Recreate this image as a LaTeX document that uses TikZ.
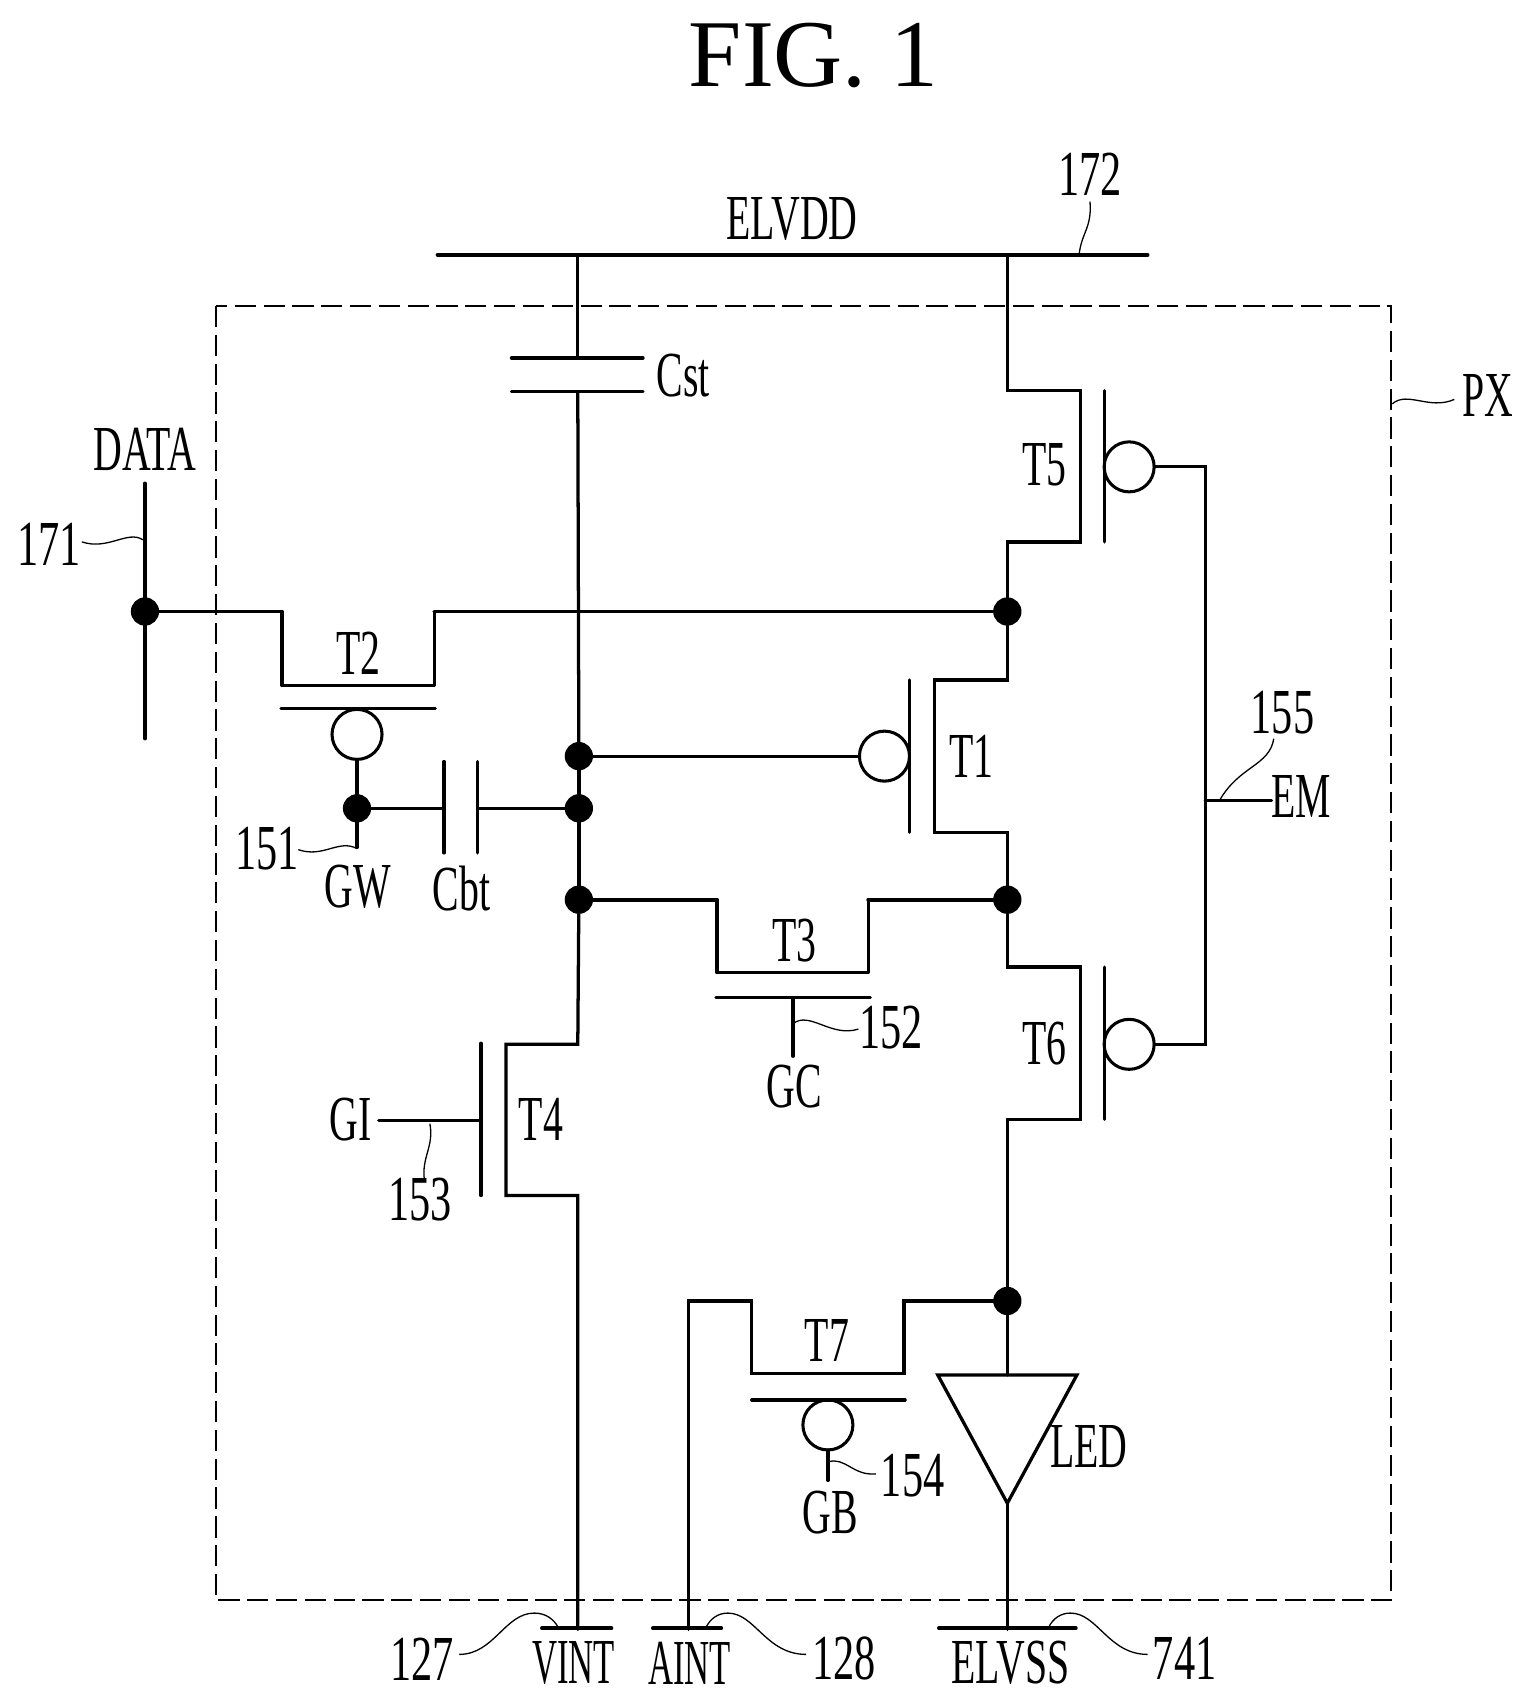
\documentclass[tikz,border=0pt]{standalone}
\usepackage{fontspec}
\setmainfont{Liberation Serif}
\newcommand\cnd[1]{\scalebox{.62}[1]{#1}}
\newcommand\cnu[1]{\scalebox{.66}[1]{#1}}
\newcommand\cnn[1]{\scalebox{.54}[1]{#1}}
\tikzset{
  x=1pt,y=-1pt,
  wire/.style={line width=3pt,line cap=round,line join=miter},
  heavy/.style={line width=3.4pt,line cap=round},
  leader/.style={line width=1.2pt},
  dot/.style={circle,fill=black,draw=none,minimum size=26pt,inner sep=0pt,outer sep=0pt},
  bubble/.style={circle,draw=black,fill=white,line width=2.8pt,minimum size=46pt,inner sep=0pt,outer sep=0pt},
  lbl/.style={inner sep=0pt,outer sep=0pt,font=\fontsize{59}{59}\selectfont},
  title/.style={inner sep=0pt,outer sep=0pt,font=\fontsize{88}{88}\selectfont},
  dashbox/.style={line width=2.1pt,dash pattern=on 19.5pt off 7pt}
}
\begin{document}
\begin{tikzpicture}
\useasboundingbox (0.7,0.7) rectangle (1409.5,1566.7);
\fill[white] (0.7,0.7) rectangle (1409.5,1566.7);
% junctions and bubbles
\node[dot] (dData) at (134,563) {};
\node[dot] (dTop) at (927,563) {};
\node[dot] (dGate) at (533,696) {};
\node[dot] (dCbt) at (533,744) {};
\node[dot] (dTh) at (533,828) {};
\node[dot] (dMid) at (927,828) {};
\node[dot] (dGw) at (329,744) {};
\node[dot] (dLed) at (927,1197) {};
\node[bubble] (bT5) at (1039,430) {};
\node[bubble] (bT6) at (1039,961) {};
\node[bubble] (bT2) at (329,676) {};
\node[bubble] (bT1) at (814,696) {};
\node[bubble] (bT7) at (762,1311) {};
% free ends
\coordinate (vddL) at (403,235);
\coordinate (vddR) at (1056,235);
\coordinate (vddA) at (532,235);
\coordinate (vddB) at (927,235);
\coordinate (cstTop) at (532,330);
\coordinate (cstBot) at (532,361);
\coordinate (vint) at (532,1499);
\coordinate (aint) at (634,1499);
\coordinate (elvss) at (927,1499);
\coordinate (ledTop) at (927,1265);
\coordinate (ledTip) at (927,1383);
\coordinate (emBus) at (1109,737);
\coordinate (emEnd) at (1170,737);
\coordinate (dataTop) at (134,445);
\coordinate (dataBot) at (134,680);
\coordinate (gwEnd) at (329,780);
\coordinate (gcStem) at (730,918);
\coordinate (gcEnd) at (730,972);
\coordinate (gbEnd) at (762,1362);
\coordinate (giEnd) at (349,1031);
\coordinate (giGate) at (443,1031);
\coordinate (cbtL) at (409,744);
\coordinate (cbtR) at (440,744);
% dashed frame
\draw[dashbox] (199,282) rectangle (1280,1472);
% power rails
\draw[heavy] (vddL) -- (vddR);
\draw[heavy] (499,1498) -- (563,1498);
\draw[heavy] (601,1498) -- (664,1498);
\draw[heavy] (864,1498) -- (990,1498);
% Cst
\draw[wire] (vddA) -- (cstTop);
\draw[wire] (cstBot) -- (dGate);
\draw[wire] (dGate) -- (dCbt);
\draw[wire] (dCbt) -- (dTh);
\draw[wire] (471,330) -- (592,330);
\draw[wire] (471,361) -- (592,361);
% T5
\draw[wire] (vddB) -- (927,360) -- (994,360) -- (994,499) -- (927,499) -- (dTop);
\draw[wire] (1016,360) -- (1016,499);
\draw[wire] (bT5) -- (1109,430) -- (1109,961) -- (bT6);
\draw[wire] (emBus) -- (emEnd);
% T6
\draw[wire] (dMid) -- (927,890) -- (994,890) -- (994,1030) -- (927,1030) -- (dLed);
\draw[wire] (1016,890) -- (1016,1030);
% data and T2
\draw[wire] (dataTop) -- (dataBot);
\draw[heavy] (dData) -- (260,563);
\draw[wire] (260,563) -- (260,631);
\draw[heavy] (260,631) -- (400,631);
\draw[wire] (400,631) -- (400,563);
\draw[heavy] (400,563) -- (dTop);
\draw[wire] (259,652) -- (401,652);
\draw[wire] (bT2) -- (dGw);
\draw[wire] (dGw) -- (gwEnd);
% Cbt
\draw[wire] (dGw) -- (cbtL);
\draw[wire] (cbtR) -- (dCbt);
\draw[wire] (409,701) -- (409,785);
\draw[wire] (440,701) -- (440,785);
% T1
\draw[wire] (dGate) -- (bT1);
\draw[wire] (837,626) -- (837,766);
\draw[wire] (dTop) -- (927,626) -- (860,626) -- (860,766) -- (927,766) -- (dMid);
% T3
\draw[heavy] (dTh) -- (660,828);
\draw[wire] (660,828) -- (660,895);
\draw[heavy] (660,895) -- (799,895);
\draw[wire] (799,895) -- (799,828);
\draw[heavy] (799,828) -- (dMid);
\draw[wire] (659,918) -- (801,918);
\draw[wire] (gcStem) -- (gcEnd);
% T4
\draw[wire] (dTh) -- (532,961) -- (466,961) -- (466,1100) -- (532,1100) -- (vint);
\draw[wire] (443,960) -- (443,1100);
\draw[wire] (giEnd) -- (giGate);
% T7
\draw[wire] (aint) -- (634,1197) -- (692,1197) -- (692,1264) -- (832,1264) -- (832,1197) -- (dLed);
\draw[wire] (692,1288) -- (833,1288);
\draw[wire] (bT7) -- (gbEnd);
% LED
\draw[wire] (dLed) -- (ledTop);
\draw[wire,line join=miter] (863,1265) -- (991,1265) -- (ledTip) -- cycle;
\draw[wire] (ledTip) -- (elvss);
% leaders
\draw[leader] (993,235) .. controls (995,215) and (1005,210) .. (1003,186);
\draw[leader] (132,497) .. controls (118,488) and (100,507) .. (76,499);
\draw[leader] (1281,372) .. controls (1295,360) and (1315,378) .. (1338,368);
\draw[leader] (1122,737) .. controls (1140,705) and (1168,705) .. (1172,680);
\draw[leader] (329,781) .. controls (312,772) and (298,790) .. (275,782);
\draw[leader] (730,942) .. controls (745,930) and (765,955) .. (790,947);
\draw[leader] (396,1034) .. controls (400,1055) and (388,1065) .. (391,1086);
\draw[leader] (762,1345) .. controls (778,1340) and (785,1358) .. (806,1356);
\draw[leader] (423,1522) .. controls (455,1522) and (465,1484) .. (492,1484) .. controls (503,1484) and (510,1490) .. (514,1497);
\draw[leader] (650,1497) .. controls (654,1489) and (661,1484) .. (670,1484) .. controls (695,1484) and (705,1522) .. (742,1522);
\draw[leader] (965,1497) .. controls (969,1489) and (976,1484) .. (985,1484) .. controls (1010,1484) and (1020,1522) .. (1056,1522);
% texts
\node[title] (tFig) at (749,52) {FIG. 1};
\node[lbl] (tElvdd) at (729,202) {\cnd{ELVDD}};
\node[lbl] (t172) at (1003,161) {\cnu{172}};
\node[lbl] (tCst) at (629,346) {\cnd{Cst}};
\node[lbl] (tData) at (134,414) {\cnd{DATA}};
\node[lbl] (t171) at (46,501) {\cnu{171}};
\node[lbl] (tPx) at (1369,364) {\cnd{PX}};
\node[lbl] (tT5) at (961,428) {\cnd{T5}};
\node[lbl] (tT2) at (330,601) {\cnd{T2}};
\node[lbl] (tT1) at (894,696) {\cnd{T1}};
\node[lbl] (tT6) at (961,960) {\cnd{T6}};
\node[lbl] (tT3) at (731,866) {\cnd{T3}};
\node[lbl] (tT4) at (498,1030) {\cnd{T4}};
\node[lbl] (tT7) at (761,1233) {\cnd{T7}};
\node[lbl] (t155) at (1180,656) {\cnu{155}};
\node[lbl] (tEm) at (1197,733) {\cnd{EM}};
\node[lbl] (t151) at (246,781) {\cnu{151}};
\node[lbl] (tGw) at (330,816) {\cnd{GW}};
\node[lbl] (tCbt) at (425,818) {\cnd{Cbt}};
\node[lbl] (t152) at (820,946) {\cnu{152}};
\node[lbl] (tGc) at (731,1000) {\cnd{GC}};
\node[lbl] (tGi) at (323,1030) {\cnd{GI}};
\node[lbl] (t153) at (387,1104) {\cnu{153}};
\node[lbl] (tLed) at (1002,1331) {\cnd{LED}};
\node[lbl] (t154) at (840,1358) {\cnu{154}};
\node[lbl] (tGb) at (764,1392) {\cnd{GB}};
\node[lbl] (t127) at (389,1526) {\cnu{127}};
\node[lbl] (tVint) at (528,1530) {\cnn{VINT}};
\node[lbl] (tAint) at (635,1530) {\cnn{AINT}};
\node[lbl] (t128) at (777,1526) {\cnu{128}};
\node[lbl] (tElvss) at (930,1530) {\cnd{ELVSS}};
\node[lbl] (t741) at (1090,1526) {\cnu{741}};
\end{tikzpicture}
\end{document}
